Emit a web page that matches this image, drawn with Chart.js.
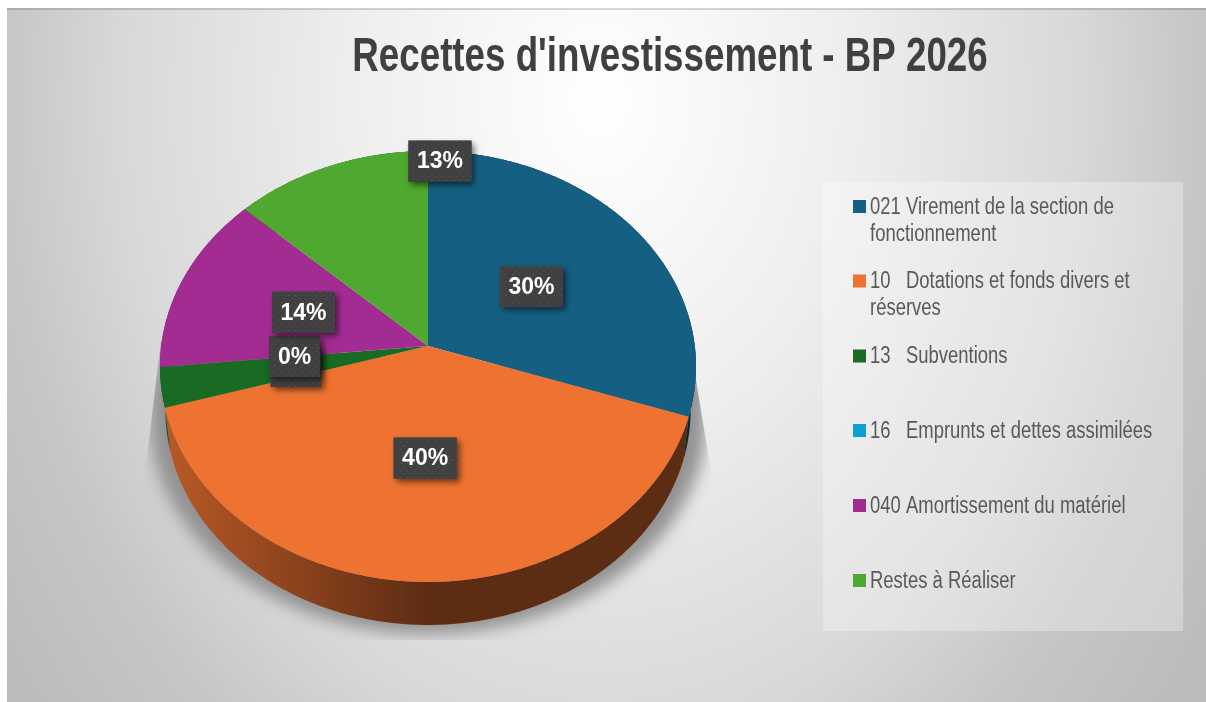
<!DOCTYPE html>
<html><head><meta charset="utf-8">
<script src="https://cdn.jsdelivr.net/npm/chart.js@4"></script>
<style>html,body{margin:0;padding:0;background:#fff;overflow:hidden}canvas{display:block}</style>
</head><body><canvas id="c" width="1206" height="702"></canvas>
<script>
const chartTitle = "Recettes d'investissement - BP 2026";
const categories = ["021 Virement de la section de fonctionnement","10   Dotations et fonds divers et réserves","13   Subventions","16   Emprunts et dettes assimilées","040 Amortissement du matériel","Restes à Réaliser"];
const shares = [30.2, 40.25, 3.0, 0, 13.5, 13.05];
const colors = ["#156082","#EE7331","#196B24","#0F9ED5","#A32C93","#4FA82F"];

/* perspective view of the pie: a projective map of the unit circle */
const V = {cx:428, apexY:346, a:180.6, k:-0.0951, c:266.8, depth:43, narrow:.98};
function project(u,v){const w=1+V.k*v;return {x:V.cx+V.c*u/w,y:(V.a*v+V.apexY)/w};}
function rim(t,r=1){return project(r*Math.cos(t),r*Math.sin(t));}
function lowerRim(t){const p=rim(t);return {x:V.cx+(p.x-V.cx)*V.narrow,y:p.y+V.depth};}
function arcSteps(s,e){return Math.max(2,Math.ceil((e-s)/0.01));}

Chart.ArcElement.prototype.draw=function(ctx){
  const s=this.startAngle,e=this.endAngle;
  if(e-s<=1e-6)return;
  const n=arcSteps(s,e),o=project(0,0);
  ctx.save();ctx.beginPath();ctx.moveTo(o.x,o.y);
  for(let i=0;i<=n;i++){const p=rim(s+(e-s)*i/n);ctx.lineTo(p.x,p.y);}
  ctx.closePath();ctx.fillStyle=this.options.backgroundColor;ctx.fill();ctx.restore();
};

function shade(hex,f){const n=parseInt(hex.slice(1),16);return `rgb(${(n>>16)*f|0},${((n>>8)&255)*f|0},${(n&255)*f|0})`;}

const backdrop={id:'backdrop',beforeDraw(chart){
  const g=chart.ctx;g.save();
  g.fillStyle='#fff';g.fillRect(0,0,1206,702);
  g.beginPath();g.rect(7,8,1199,694);g.clip();
  g.save();g.translate(600,100);g.scale(1,1/.75);
  const rg=g.createRadialGradient(0,0,0,0,0,740);
  rg.addColorStop(0,'#ffffff');rg.addColorStop(.34,'#eeeeee');rg.addColorStop(.65,'#d8d8d8');rg.addColorStop(.81,'#c6c6c6');rg.addColorStop(1,'#bbbbbb');
  g.fillStyle=rg;g.fillRect(-700,-200,1400,1000);g.restore();
  g.fillStyle='rgba(0,0,0,.14)';g.fillRect(7,8,1199,2);
  g.fillStyle='rgba(255,255,255,.3)';g.fillRect(823,182,360,449);
  g.restore();
  // the title keeps its library layout, set condensed as in the reference
  const tb=chart.titleBlock;
  if(tb&&!tb._condensed){
    tb._condensed=true;const orig=tb.draw;
    tb.draw=function(area){const c=this.ctx;c.save();c.translate(670,0);c.scale(.765,1);c.translate(-670,0);orig.call(this,area);c.restore();};
  }
}};

const solidSide={id:'solidSide',beforeDatasetsDraw(chart){
  const g=chart.ctx,arcs=chart.getDatasetMeta(0).data;
  g.save();
  g.save();g.beginPath();g.moveTo(161,340);g.lineTo(143,490);g.lineTo(143,640);g.lineTo(714,640);g.lineTo(714,490);g.lineTo(696,380);g.closePath();g.clip();
  g.filter='blur(8px)';g.fillStyle='#929292';g.beginPath();
  for(let i=0;i<=200;i++){const p=lowerRim(i/200*Math.PI*2);const q={x:V.cx+(p.x-V.cx)*1.06,y:p.y+(p.y>409?9:0)};i?g.lineTo(q.x,q.y):g.moveTo(q.x,q.y);}
  g.closePath();g.fill();g.restore();
  arcs.forEach((el,i)=>{
    const s=el.startAngle,e=el.endAngle;if(e-s<=1e-6)return;
    const n=arcSteps(s,e);
    g.beginPath();
    for(let j=0;j<=n;j++){const p=rim(s+(e-s)*j/n);j?g.lineTo(p.x,p.y):g.moveTo(p.x,p.y);}
    for(let j=n;j>=0;j--){const p=lowerRim(s+(e-s)*j/n);g.lineTo(p.x,p.y);}
    g.closePath();
    const lg=g.createLinearGradient(165,0,430,0);
    lg.addColorStop(0,shade(colors[i],.78));lg.addColorStop(1,shade(colors[i],.39));
    g.fillStyle=lg;g.fill();
  });
  g.restore();
}};

const labelPlacement=[{r:.49},{r:.5},{r:.5},{r:.5},{r:.5},{r:.945,angle:-1.519}];
function dotTile(){
  const t=document.createElement('canvas');t.width=t.height=7;const x=t.getContext('2d');
  x.fillStyle='#404040';x.fillRect(0,0,7,7);x.fillStyle='#5a5a5a';
  x.fillRect(1,1,1,1);x.fillRect(4.5,4.5,1,1);return t;
}
const sliceLabels={id:'sliceLabels',afterDatasetsDraw(chart){
  const g=chart.ctx,arcs=chart.getDatasetMeta(0).data,vals=chart.data.datasets[0].data;
  const total=vals.reduce((a,b)=>a+b,0),pat=g.createPattern(dotTile(),'repeat');
  arcs.forEach((el,i)=>{
    const pl=labelPlacement[i],mid=pl.angle!==undefined?pl.angle:(el.startAngle+el.endAngle)/2;
    const p=rim(mid,pl.r),txt=Math.round(vals[i]/total*100)+'%';
    g.save();g.font='bold 23px "Liberation Sans"';
    const w=g.measureText(txt).width+17,h=41;
    g.shadowColor='rgba(0,0,0,.55)';g.shadowBlur=6;g.shadowOffsetX=3;g.shadowOffsetY=3;
    g.fillStyle='#404040';g.fillRect(p.x-w/2,p.y-h/2,w,h);
    g.shadowColor='transparent';
    g.fillStyle=pat;g.fillRect(p.x-w/2,p.y-h/2,w,h);
    g.fillStyle='#fff';g.textAlign='center';g.textBaseline='middle';g.fillText(txt,p.x,p.y+1);
    g.restore();
  });
}};

const legendRows=[206.5,281,356,430.5,505.5,580.5];
const legendSqueeze=.803;
const sideLegend={id:'sideLegend',afterDraw(chart){
  const g=chart.ctx,lab=chart.data.labels;
  g.save();g.font='23px "Liberation Sans"';g.textBaseline='middle';
  lab.forEach((t,i)=>{
    g.fillStyle=colors[i];g.fillRect(853,legendRows[i]-6.5,13,13);
    g.fillStyle='#595959';
    const words=t.split(' ');let line='',lines=[];
    words.forEach(w=>{const tr=line?line+' '+w:w;if(g.measureText(tr).width*legendSqueeze>300&&line){lines.push(line);line=w;}else line=tr;});
    lines.push(line);
    lines.forEach((l,j)=>{g.save();g.translate(870,legendRows[i]+1+j*27);g.scale(legendSqueeze,1);g.fillText(l,0,0);g.restore();});
  });
  g.restore();
}};

new Chart(document.getElementById('c'),{
  type:'pie',
  data:{labels:categories,datasets:[{data:shares,backgroundColor:colors,borderWidth:0}]},
  options:{
    responsive:false,animation:false,
    layout:{padding:{left:134,top:0,right:0,bottom:0}},
    plugins:{
      legend:{display:false},tooltip:{enabled:false},
      title:{display:true,text:chartTitle,fullSize:false,color:'#404040',
        font:{family:'"Liberation Sans"',weight:'bold',size:48},padding:{top:29,bottom:10}}
    }
  },
  plugins:[backdrop,solidSide,sliceLabels,sideLegend]
});
</script></body></html>
